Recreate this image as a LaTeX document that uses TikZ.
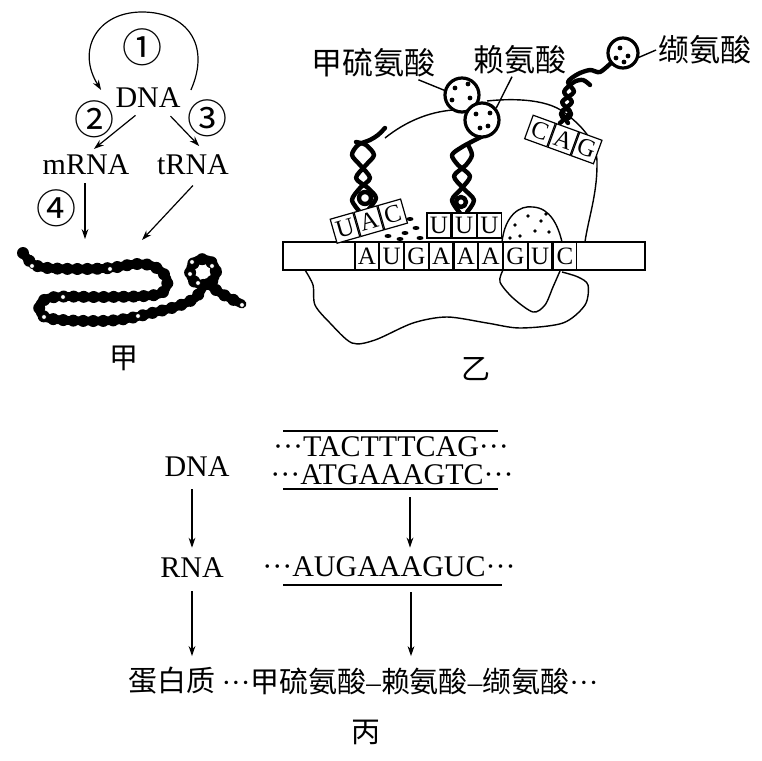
\documentclass[tikz,border=0pt]{standalone}
\usepackage{fontspec}
\setmainfont{Liberation Serif}
\newfontfamily\cjk{Noto Sans CJK SC}
\usetikzlibrary{arrows.meta,positioning}
\tikzset{
    arr/.style={-{Stealth[length=5pt,width=3.4pt]}, line width=0.6pt},
    lbl/.style={inner sep=1pt, font=\fontsize{15}{17}\selectfont},
    seq/.style={inner sep=1pt, font=\fontsize{15}{17}\selectfont},
    han/.style={inner sep=1pt, font=\cjk\fontsize{15.5}{17}\selectfont},
    hanb/.style={inner sep=1pt, font=\cjk\fontsize{14.5}{17}\selectfont},
    num/.style={inner sep=0pt, font=\cjk\fontsize{20}{22}\selectfont},
    base/.style={draw, fill=white, line width=0.6pt, minimum width=11.78pt, minimum height=14pt, inner sep=0pt, font=\fontsize{12.5}{14}\selectfont},
    anti/.style={base, minimum width=11.8pt, minimum height=12.5pt},
    beads/.style={line width=4.4pt, line cap=round, line join=round,
        postaction={draw, line width=6pt, line cap=round, dash pattern=on 0pt off 5pt}},
    hole/.style={fill=white, draw=black, line width=0.4pt},
    strand/.style={line width=2.2pt, line cap=round, line join=round},
    amino/.style={circle, draw, fill=white, line width=1.6pt, minimum size=17pt, inner sep=0pt},
    outline/.style={line width=0.7pt},
}
\begin{document}
\begin{tikzpicture}[x=0.5pt, y=-0.5pt]
    \useasboundingbox (0,0) rectangle (762,761);
    % left panel
    \node[lbl] (dna) at (148,98) {DNA};
    \node[lbl] (mrna) at (86,165) {mRNA};
    \node[lbl] (trna) at (193,165) {tRNA};
    \node[num] (n1) at (142,47) {①};
    \node[num] (n2) at (95,119) {②};
    \node[num] (n3) at (207,118) {③};
    \node[num] (n4) at (57,208) {④};
    \coordinate (chainl) at (85,239);
    \coordinate (chainr) at (142,240);
    \draw[arr] ([shift={(4pt,4pt)}]dna.east) .. controls +(20,-45) and +(45,0) .. (142,12) .. controls +(-45,0) and +(-25,-40) .. ([shift={(-6pt,4pt)}]dna.west);
    \draw[arr, shorten <=4pt, shorten >=3pt] (dna.-117) -- (mrna.75);
    \draw[arr, shorten <=4pt, shorten >=4.5pt] (dna.-36) -- (trna.45);
    \draw[arr, shorten <=3pt] (mrna.south -| chainl) -- (chainl);
    \draw[arr, shorten <=5.5pt] (trna.-59) -- (chainr);
    \draw[beads] plot[smooth, tension=0.6] coordinates {(23,253) (33,264) (48,268) (80,269) (110,268) (137,264) (155,267) (167,279) (163,292) (145,296) (100,297) (55,297) (40,304) (43,316) (62,320) (100,321) (125,319) (152,313) (178,306) (195,298) (203,287)};
    \draw[beads] (203,272) circle (13);
    \draw[beads] plot[smooth] coordinates {(208,284) (222,294) (242,304)};
    \foreach \p in {(32,266),(110,269),(63,297),(44,317),(138,316),(192,262),(212,266),(190,274),(198,283),(242,305)}
        \filldraw[hole] \p circle (2.5);
    \node[hanb] (jia) at (124,358) {甲};
    % ribosome
    \draw[outline] (385,138) .. controls (405,122) and (428,112) .. (453,110);
    \draw[outline] (487,101) .. controls (505,99) and (545,97) .. (565,113) .. controls (585,128) and (598,145) .. (597,165) .. controls (597,195) and (588,220) .. (585,242);
    \draw[outline] (502,242) .. controls (505,215) and (520,205) .. (533,207) .. controls (550,208) and (558,225) .. (562,242);
    \foreach \p in {(515,225),(528,216),(541,221),(549,232),(520,236),(535,231),(546,214),(510,238)}
        \fill \p circle (1.8);
    \foreach \p in {(395,225),(405,233),(416,228),(400,239),(420,238),(410,219),(388,236)}
        \fill \p ellipse (3.5 and 2);
    \draw[outline] plot[smooth] coordinates {(305,270) (313,285) (315,305) (330,323) (352,343) (375,340) (413,323) (447,317) (487,323) (520,328) (563,323) (585,305) (588,285) (578,277) (562,272)};
    \draw[outline] plot[smooth] coordinates {(503,270) (500,282) (513,298) (533,312) (545,305) (553,287) (560,271)};
    % mRNA strand
    \draw[line width=0.6pt] (283,242) rectangle (645,270);
    \node[base] (c1) at (366.8,256) {A};
    \node[base, right=0pt of c1] (c2) {U};
    \node[base, right=0pt of c2] (c3) {G};
    \node[base, right=0pt of c3] (c4) {A};
    \node[base, right=0pt of c4] (c5) {A};
    \node[base, right=0pt of c5] (c6) {A};
    \node[base, right=0pt of c6] (c7) {G};
    \node[base, right=0pt of c7] (c8) {U};
    \node[base, right=0pt of c8] (c9) {C};
    % tRNA
    \draw[strand] plot[smooth] coordinates {(360,212) (352,200) (360,188) (370,178) (360,165) (352,155) (358,145) (370,140) (378,135) (385,128)};
    \draw[strand] plot[smooth] coordinates {(368,210) (376,198) (368,188) (356,178) (366,165) (374,155) (366,145) (356,142)};
    \draw[strand] (365,198) circle (6);
    \draw[strand] plot[smooth] coordinates {(460,213) (452,200) (462,188) (470,176) (458,165) (452,155) (462,147) (475,140) (483,136)};
    \draw[strand] plot[smooth] coordinates {(467,212) (474,200) (463,188) (454,176) (466,165) (472,155) (468,145)};
    \draw[strand] (461,202) circle (5);
    \draw[strand] plot[smooth] coordinates {(560,123) (570,112) (562,102) (574,92) (568,82) (578,74) (590,70) (600,72) (612,62)};
    \draw[strand] plot[smooth] coordinates {(568,123) (562,112) (572,102) (564,92) (574,82) (583,80) (590,85)};
    \draw[strand] (566,114) circle (5);
    \node[anti, rotate=16] (a1) at (345,228) {U};
    \node[anti, rotate=16, anchor=west] (a2) at (a1.east) {A};
    \node[anti, rotate=16, anchor=west] (a3) at (a2.east) {C};
    \node[anti, minimum width=12pt] (b1) at (439,225.5) {U};
    \node[anti, minimum width=12pt, right=0pt of b1] (b2) {U};
    \node[anti, minimum width=12pt, right=0pt of b2] (b3) {U};
    \node[anti, rotate=-20] (g1) at (540,131) {C};
    \node[anti, rotate=-20, anchor=west] (g2) at (g1.east) {A};
    \node[anti, rotate=-20, anchor=west] (g3) at (g2.east) {G};
    % amino acids
    \node[amino] (met) at (462,95) {};
    \node[amino] (lys) at (482,120) {};
    \node[amino, minimum size=15pt] (val) at (623,53) {};
    \foreach \p in {(455,88),(468,84),(470,98),(452,100),(476,114),(488,126),(480,128),(490,113),(620,48),(628,56),(616,58),(624,62)}
        \fill \p circle (2.4);
    \node[han] (metl) at (373,63) {甲硫氨酸};
    \node[han] (lysl) at (520,60) {赖氨酸};
    \node[han] (vall) at (705,50) {缬氨酸};
    \draw[outline] ([xshift=-9.5pt]metl.south east) -- (met.165);
    \draw[outline] ([xshift=-4pt]lysl.south) -- (lys.40);
    \draw[outline] (val.-15) -- (vall.west);
    \node[hanb] (yi) at (476,369) {乙};
    % bottom panel
    \node[lbl] (dnal) at (197,467) {DNA};
    \node[lbl] (rnal) at (192,568) {RNA};
    \node[hanb] (protl) at (172,681) {蛋白质};
    \node[seq] (top) at (391,447) {···TACTTTCAG···};
    \node[seq] (bot) at (392,475) {···ATGAAAGTC···};
    \node[seq] (rnaseq) at (389,567) {···AUGAAAGUC···};
    \node[hanb] (protseq) at (410,681) {{\rmfamily ···}甲硫氨酸{\rmfamily –}赖氨酸{\rmfamily –}缬氨酸{\rmfamily ···}};
    \draw[line width=1pt] (283,431) -- (498,431);
    \draw[line width=1pt] (283,489) -- (498,489);
    \draw[line width=1pt] (283,585) -- (502,585);
    \coordinate (lo) at (410,489);
    \coordinate (lr) at (411,585);
    \draw[arr, shorten <=5pt, shorten >=4pt] (rnal.north |- dnal.south) -- (rnal.north);
    \draw[arr, shorten <=5.5pt, shorten >=4.5pt] (rnal.south) -- (rnal.south |- protl.north);
    \draw[arr, shorten <=4pt, shorten >=3.5pt] (lo) -- (lo |- rnaseq.north);
    \draw[arr, shorten <=3.5pt, shorten >=4.5pt] (lr) -- (lr |- protseq.north);
    \node[hanb] (bing) at (366,732) {丙};
\end{tikzpicture}
\end{document}
